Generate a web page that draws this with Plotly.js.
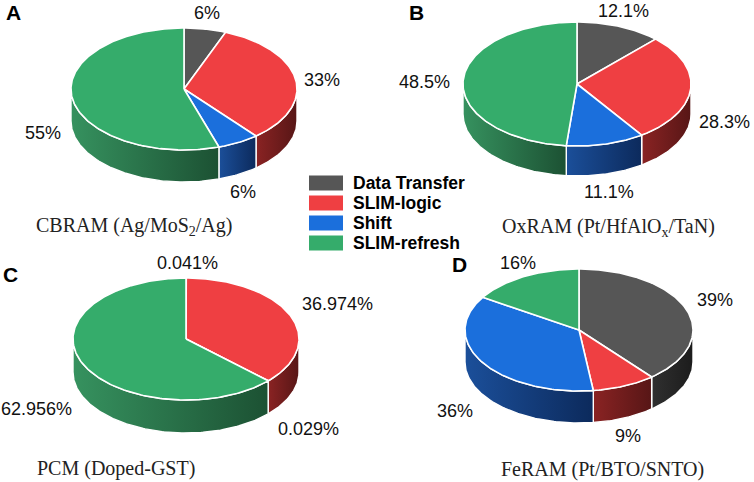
<!DOCTYPE html>
<html>
<head>
<meta charset="utf-8">
<script src="https://cdn.plot.ly/plotly-3.0.1.min.js"></script>
<style>html, body { margin: 0; padding: 0; background: #fff; }</style>
</head>
<body>
<div id="chart" style="width:754px;height:482px"></div>
<script>
// data
const categories = ['Data Transfer', 'SLIM-logic', 'Shift', 'SLIM-refresh']
const cbramValues = [6, 33, 6, 55]
const oxramValues = [12.1, 28.3, 11.1, 48.5]
const pcmValues = [0.041, 36.974, 0.029, 62.956]
const feramValues = [39, 9, 36, 16]
const deviceTitles = ['CBRAM (Ag/MoS<sub>2</sub>/Ag)', 'OxRAM (Pt/HfAlO<sub>x</sub>/TaN)', 'PCM (Doped-GST)', 'FeRAM (Pt/BTO/SNTO)']
const panelLetters = ['A', 'B', 'C', 'D']

const topColors = ['#565656', '#ef3f42', '#1b6fdc', '#35ac6b']
const sideColors = [
  ['#303030', '#1c1c1c'],
  ['#8a2323', '#571616'],
  ['#1b4f9a', '#0c2a5c'],
  ['#36925f', '#1c5133']
]

// layout of each pie in page pixels (label positions follow category order)
const pies = [
  { values: cbramValues, cx: 184, cy: 89, rx: 113, ry: 61, depth: 32,
    letter: [13, 12], title: [134, 226],
    labels: [[207, 13], [322, 80], [243, 192], [43, 133]] },
  { values: oxramValues, cx: 577, cy: 84, rx: 114, ry: 62, depth: 30,
    letter: [416, 12], title: [608, 227],
    labels: [[623, 11], [724, 122], [609, 192], [424, 82]] },
  { values: pcmValues, cx: 186, cy: 339, rx: 113, ry: 61, depth: 33,
    letter: [10, 274], title: [116, 468],
    labels: [[187, 263], [337, 304], [308, 429], [36, 409]] },
  { values: feramValues, cx: 579, cy: 330, rx: 114, ry: 61, depth: 32,
    letter: [459, 264], title: [602, 469],
    labels: [[715, 300], [628, 436], [455, 411], [518, 263]] }
]

const toRad = d => d * Math.PI / 180

// angle measured clockwise from 12 o'clock, screen y pointing down
function arc(p, a1, a2, dy) {
  const xs = [], ys = []
  const n = Math.max(2, Math.ceil(Math.abs(a2 - a1)))
  for (let i = 0; i <= n; i++) {
    const a = toRad(a1 + (a2 - a1) * i / n)
    xs.push(p.cx + p.rx * Math.sin(a))
    ys.push(p.cy - p.ry * Math.cos(a) + dy)
  }
  return { xs, ys }
}

const sideTraces = []
const topTraces = []
const annotations = []

pies.forEach((p, pi) => {
  const total = p.values.reduce((s, v) => s + v, 0)
  let start = 0
  p.values.forEach((v, i) => {
    const end = start + v / total * 360

    // top face
    const t = arc(p, start, end, 0)
    topTraces.push({
      x: [p.cx, ...t.xs, p.cx],
      y: [p.cy, ...t.ys, p.cy],
      type: 'scatter',
      mode: 'lines',
      fill: 'toself',
      fillcolor: topColors[i],
      line: { color: '#ffffff', width: 1.6 },
      name: categories[i],
      hoverinfo: 'skip',
      showlegend: false
    })

    // front side, only the part facing the viewer (90..270 deg)
    const s = Math.max(start, 90)
    const e = Math.min(end, 270)
    if (e > s) {
      const up = arc(p, s, e, 0)
      const down = arc(p, e, s, p.depth)
      sideTraces.push({
        x: [...up.xs, ...down.xs, up.xs[0]],
        y: [...up.ys, ...down.ys, up.ys[0]],
        type: 'scatter',
        mode: 'lines',
        fill: 'toself',
        fillgradient: {
          type: 'horizontal',
          colorscale: [[0, sideColors[i][0]], [1, sideColors[i][1]]]
        },
        line: { color: '#ffffff', width: 1.4 },
        hoverinfo: 'skip',
        showlegend: false
      })
    }

    annotations.push({
      x: p.labels[i][0], y: p.labels[i][1],
      xref: 'x', yref: 'y',
      text: v + '%',
      showarrow: false,
      xanchor: 'center', yanchor: 'middle',
      font: { family: 'Liberation Sans, Arial, sans-serif', size: 18, color: '#111111' }
    })
    start = end
  })

  annotations.push({
    x: p.letter[0], y: p.letter[1], xref: 'x', yref: 'y',
    text: '<b>' + panelLetters[pi] + '</b>',
    showarrow: false, xanchor: 'center', yanchor: 'middle',
    font: { family: 'Liberation Sans, Arial, sans-serif', size: 21, color: '#000000' }
  })
  annotations.push({
    x: p.title[0], y: p.title[1], xref: 'x', yref: 'y',
    text: deviceTitles[pi],
    showarrow: false, xanchor: 'center', yanchor: 'middle',
    font: { family: 'Liberation Serif, Times New Roman, serif', size: 20, color: '#222222' }
  })
})

// legend drawn as swatches + text
const shapes = []
categories.forEach((c, i) => {
  const yc = 183 + i * 20
  shapes.push({
    type: 'rect', xref: 'x', yref: 'y',
    x0: 309, x1: 343, y0: yc - 7.5, y1: yc + 7.5,
    fillcolor: topColors[i], line: { width: 0 }
  })
  annotations.push({
    x: 351, y: yc, xref: 'x', yref: 'y',
    text: '<b>' + c + '</b>',
    showarrow: false, xanchor: 'left', yanchor: 'middle',
    font: { family: 'Liberation Sans, Arial, sans-serif', size: 17.5, color: '#000000' }
  })
})

const layout = {
  width: 754,
  height: 482,
  margin: { l: 0, r: 0, t: 0, b: 0 },
  paper_bgcolor: '#ffffff',
  plot_bgcolor: '#ffffff',
  xaxis: { range: [0, 754], visible: false, fixedrange: true },
  yaxis: { range: [482, 0], visible: false, fixedrange: true },
  showlegend: false,
  shapes: shapes,
  annotations: annotations
}

Plotly.newPlot('chart', [...sideTraces, ...topTraces], layout, { displayModeBar: false, staticPlot: true })
</script>
</body>
</html>
